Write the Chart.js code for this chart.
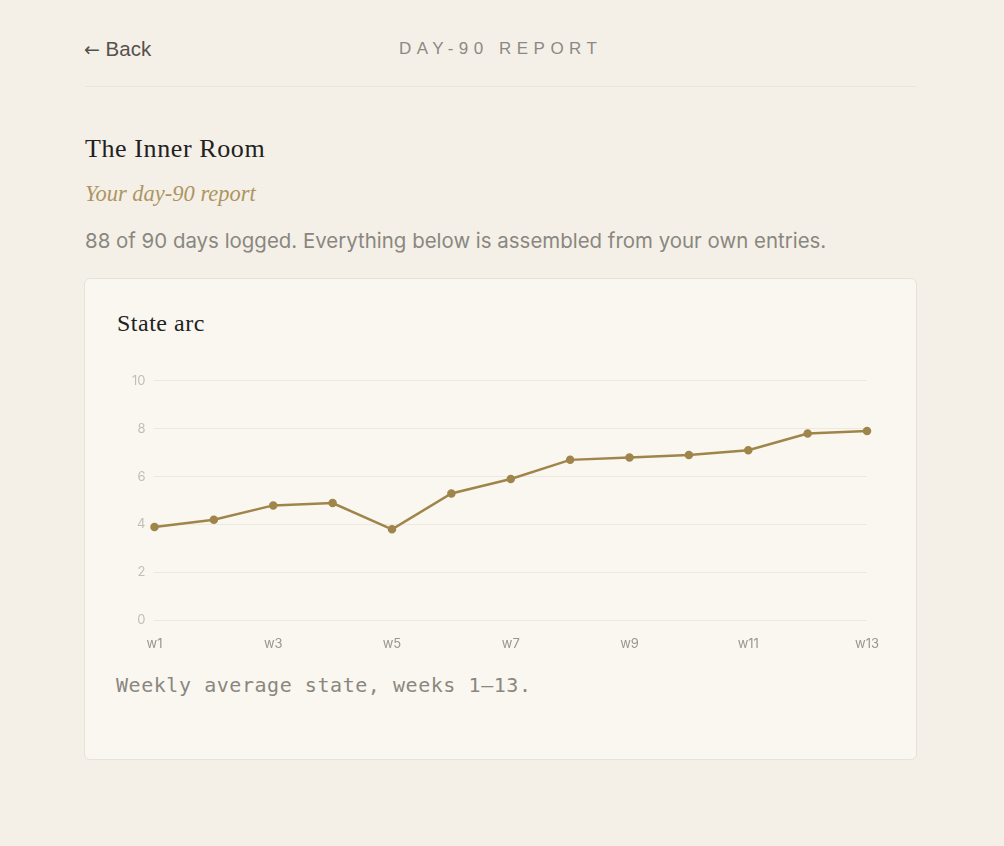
<!DOCTYPE html>
<html><head><meta charset="utf-8">
<script src="https://cdn.jsdelivr.net/npm/chart.js@4/dist/chart.umd.min.js"></script>
<style>
html,body{margin:0;padding:0;background:#f4f0e8;width:1004px;height:846px;overflow:hidden;}
body{position:relative;font-family:Inter,"Liberation Sans",sans-serif;}
.back{position:absolute;left:84px;top:37px;font-family:"Liberation Sans",sans-serif;font-size:20.5px;color:#55524c;}
.back .ar{font-family:"DejaVu Sans",sans-serif;font-size:19px;}
.hdr{position:absolute;left:399px;top:39px;font-size:17px;letter-spacing:5.5px;color:#8c8983;font-family:"Liberation Sans",sans-serif;}
.rule{position:absolute;left:85px;width:831px;top:86px;height:1px;background:#ebe5d6;}
h1{position:absolute;left:85px;top:134px;margin:0;font-family:"Liberation Serif",serif;font-weight:normal;font-size:26px;letter-spacing:0.6px;color:#22211e;}
.sub{position:absolute;left:85px;top:181px;font-family:"Liberation Serif",serif;font-style:italic;font-size:22.5px;color:#ad9562;}
.lead{position:absolute;left:85px;top:228px;font-size:20.45px;color:#8a877f;}
.card{position:absolute;left:84px;top:278px;width:831px;height:480px;background:#faf7f0;border:1px solid #e6e2d9;border-radius:6px;}
.ct{position:absolute;left:117px;top:310px;font-family:"Liberation Serif",serif;font-size:24px;letter-spacing:0.5px;color:#22211e;}
.cw{position:absolute;left:117px;top:364px;width:770px;height:296px;}
.cap{position:absolute;left:116px;top:673px;font-family:"DejaVu Sans Mono",monospace;font-size:20px;letter-spacing:0.55px;color:#8a877f;}
</style></head>
<body>
<div class="back"><span class="ar">←</span> Back</div>
<div class="hdr">DAY-90 REPORT</div>
<div class="rule"></div>
<h1>The Inner Room</h1>
<div class="sub">Your day-90 report</div>
<div class="lead">88 of 90 days logged. Everything below is assembled from your own entries.</div>
<div class="card"></div>
<div class="ct">State arc</div>
<div class="cw"><canvas id="c"></canvas></div>
<div class="cap">Weekly average state, weeks 1–13.</div>
<script>
const weeks = ["w1","w2","w3","w4","w5","w6","w7","w8","w9","w10","w11","w12","w13"];
const stateValues = [3.9,4.2,4.8,4.9,3.8,5.3,5.9,6.7,6.8,6.9,7.1,7.8,7.9];
const yMin = 0, yMax = 10, yStep = 2;
new Chart(document.getElementById('c'), {
  type: 'line',
  data: { labels: weeks, datasets: [{
    data: stateValues, borderColor:'#a0854b', backgroundColor:'#a0854b',
    borderWidth:2.5, pointRadius:3, pointHoverRadius:3, tension:0, fill:false
  }]},
  options: {
    responsive:true, maintainAspectRatio:false, animation:false,
    plugins:{legend:{display:false}, tooltip:{enabled:false}},
    layout:{padding:{left:6,right:0,top:0,bottom:0}},
    scales:{
      x:{ grid:{display:false}, border:{display:false},
          ticks:{color:'#9a968f', font:{family:'Inter', size:13}, maxRotation:0, autoSkip:true, maxTicksLimit:7, padding:8}},
      y:{ min:yMin, max:yMax, grid:{color:'#ede9e0', drawTicks:false}, border:{display:false},
          ticks:{stepSize:yStep, color:'#c2beb6', font:{family:'Inter', size:13}, padding:9}}
    }
  }
});
</script>
</body></html>
